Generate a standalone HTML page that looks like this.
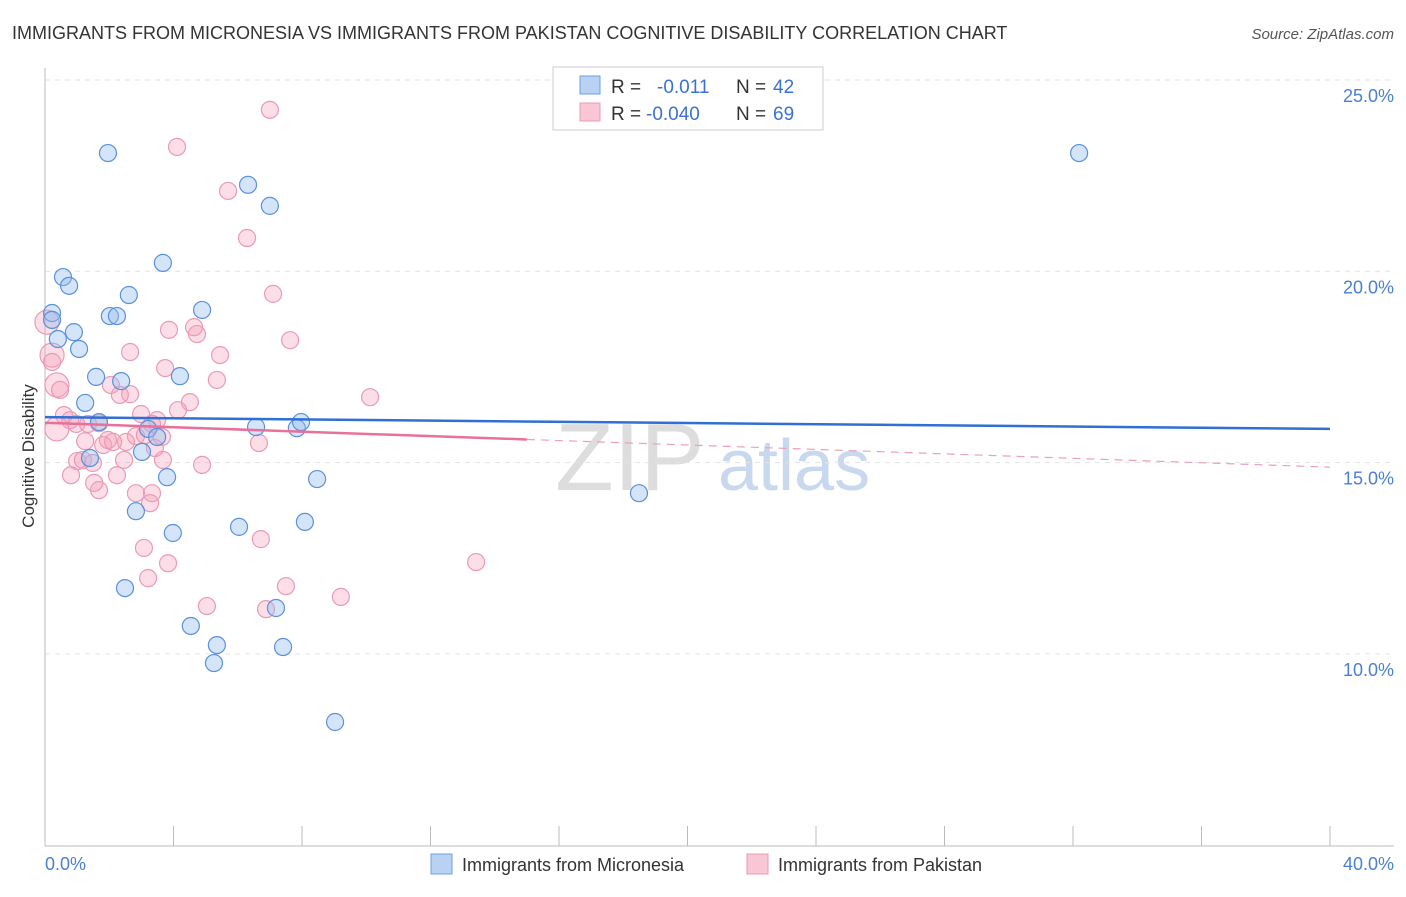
<!DOCTYPE html>
<html><head><meta charset="utf-8"><style>
body{margin:0;background:#fff;font-family:"Liberation Sans",sans-serif}
svg text{font-family:"Liberation Sans",sans-serif}
</style></head><body>
<svg id="chart" width="1406" height="892">
<text x="12" y="39" font-size="18" fill="#333">IMMIGRANTS FROM MICRONESIA VS IMMIGRANTS FROM PAKISTAN COGNITIVE DISABILITY CORRELATION CHART</text>
<text x="1394" y="39" font-size="15" fill="#555" text-anchor="end" font-style="italic">Source: ZipAtlas.com</text>
<text x="555" y="490" font-size="96" fill="#ddd" font-family="Liberation Serif">ZIP</text>
<text x="718" y="490" font-size="72" fill="#c8d8ee">atlas</text>
<g id="grid"></g><g id="axes"></g><g id="pts"></g><g id="trend"></g>
<text transform="translate(34,456) rotate(-90)" font-size="17" fill="#333" text-anchor="middle">Cognitive Disability</text>
<text x="45" y="870" font-size="18" fill="#4a7fd4">0.0%</text>
<text x="1394" y="870" font-size="18" fill="#4a7fd4" text-anchor="end">40.0%</text>
<g>
<rect x="553" y="67" width="270" height="63" fill="#fff" stroke="#ccc"/>
<rect x="580" y="76" width="20" height="18" fill="#b9d2f3" stroke="#6f9fe0"/>
<rect x="580" y="103" width="20" height="18" fill="#f8c6d4" stroke="#ec9ab3"/>
<text x="611" y="93" font-size="19" fill="#333">R =</text><text x="657" y="93" font-size="19" fill="#3a72d4">-0.011</text>
<text x="736" y="93" font-size="19" fill="#333">N =</text><text x="773" y="93" font-size="19" fill="#3a72d4">42</text>
<text x="611" y="120" font-size="19" fill="#333">R =</text><text x="646" y="120" font-size="19" fill="#3a72d4">-0.040</text>
<text x="736" y="120" font-size="19" fill="#333">N =</text><text x="773" y="120" font-size="19" fill="#3a72d4">69</text>
</g>
<g>
<rect x="431" y="854" width="21" height="20" fill="#b9d2f3" stroke="#6f9fe0"/>
<text x="462" y="871" font-size="18" fill="#333">Immigrants from Micronesia</text>
<rect x="747" y="854" width="21" height="20" fill="#f8c6d4" stroke="#ec9ab3"/>
<text x="778" y="871" font-size="18" fill="#333">Immigrants from Pakistan</text>
</g>
</svg>
<script>
const yTicks=[10,15,20,25];
const yTickLabels=["10.0%","15.0%","20.0%","25.0%"];
const blueX=[1.96,6.32,7.00,32.19,3.67,0.56,0.75,2.61,0.22,2.02,2.24,4.89,0.90,0.40,1.06,1.59,2.37,4.20,1.25,1.68,3.21,3.49,6.57,7.84,7.97,3.02,1.40,3.80,8.47,18.49,2.83,8.09,6.04,3.98,2.49,7.19,4.54,5.35,7.41,5.26,9.03,0.22];
const blueY=[23.09,22.26,21.71,23.09,20.22,19.85,19.62,19.38,18.91,18.83,18.83,18.99,18.41,18.23,17.97,17.24,17.13,17.26,16.56,16.06,15.88,15.67,15.93,15.90,16.06,15.28,15.12,14.62,14.57,14.20,13.73,13.45,13.32,13.16,11.72,11.20,10.73,10.23,10.18,9.76,8.22,18.73];
const pinkX=[7.00,4.11,5.70,6.29,7.10,7.63,3.86,4.64,4.73,5.45,2.65,0.06,0.22,0.22,5.35,3.74,10.12,0.37,0.47,2.05,2.33,2.65,4.51,4.14,2.99,3.49,0.59,0.78,0.97,1.68,0.37,1.81,1.25,1.96,2.52,2.83,3.64,3.67,3.42,1.00,1.18,1.49,2.46,4.89,6.66,0.81,2.24,1.68,2.83,3.33,3.27,1.53,6.72,3.08,3.83,3.21,7.50,5.04,9.21,6.88,13.42,2.12,1.34,3.33,3.11];
const pinkY=[24.22,23.25,22.10,20.87,19.41,18.20,18.47,18.54,18.36,17.81,17.89,18.67,17.81,17.63,17.16,17.47,16.71,17.03,16.90,17.03,16.77,16.79,16.58,16.37,16.27,16.11,16.24,16.11,16.01,16.03,15.88,15.46,15.56,15.59,15.54,15.69,15.67,15.07,15.38,15.04,15.07,14.99,15.07,14.94,15.51,14.67,14.67,14.28,14.20,14.20,13.94,14.47,13.00,12.77,12.37,11.98,11.77,11.25,11.49,11.17,12.40,15.54,16.01,16.01,15.72];
const pinkBig=[11,12,17,30];
const blueTrend=[16.19,15.88];
const pinkTrend=[16.04,14.88];
const pinkSolidEnd=15;
const NS="http://www.w3.org/2000/svg";
const X=v=>45+v/40*1285, Y=v=>80+(25-v)*191.3/5;
function mk(tag,parent,attrs){const e=document.createElementNS(NS,tag);for(const k in attrs)e.setAttribute(k,attrs[k]);document.getElementById(parent).appendChild(e);return e;}
yTicks.forEach((t,i)=>{
 const l=mk('line','grid',{x1:45,x2:1394,y1:Y(t),y2:Y(t),stroke:'#e2e2e2','stroke-dasharray':'5,5'});
 
 
 const tx=mk('text','grid',{x:1394,y:Y(t)+22,'font-size':18,fill:'#4a7fd4','text-anchor':'end'});
 tx.textContent=yTickLabels[i];
 
 
});
const ax=mk('line','axes',{x1:45,x2:45,y1:68,y2:846,stroke:'#bbb'});


const bx=mk('line','axes',{x1:45,x2:1394,y1:846,y2:846,stroke:'#bbb'});


for(let i=0;i<=10;i++){const t=mk('line','axes',{x1:X(i*4),x2:X(i*4),y1:826,y2:846,stroke:'#bbb'});
 
 }
pinkX.forEach((v,i)=>{const big=pinkBig.includes(i);
 const c=mk('circle','pts',{cx:X(v),cy:Y(pinkY[i]),r:big?12:8.5,fill:'rgba(244,160,185,0.35)',stroke:'#ec9ab3','stroke-width':1.2});
 
 });
blueX.forEach((v,i)=>{
 const c=mk('circle','pts',{cx:X(v),cy:Y(blueY[i]),r:8.5,fill:'rgba(150,190,240,0.4)',stroke:'#5a90dd','stroke-width':1.2});
 
 });
const bl=mk('line','trend',{x1:X(0),y1:Y(blueTrend[0]),x2:X(40),y2:Y(blueTrend[1]),stroke:'#2f6fd6','stroke-width':2.5});


const pm=pinkTrend[0]+(pinkTrend[1]-pinkTrend[0])*pinkSolidEnd/40;
const ps=mk('line','trend',{x1:X(0),y1:Y(pinkTrend[0]),x2:X(pinkSolidEnd),y2:Y(pm),stroke:'#e8709a','stroke-width':2.5});


const pd=mk('line','trend',{x1:X(pinkSolidEnd),y1:Y(pm),x2:X(40),y2:Y(pinkTrend[1]),stroke:'#eba0b8','stroke-width':1.2,'stroke-dasharray':'8,6'});


</script>
</body></html>
